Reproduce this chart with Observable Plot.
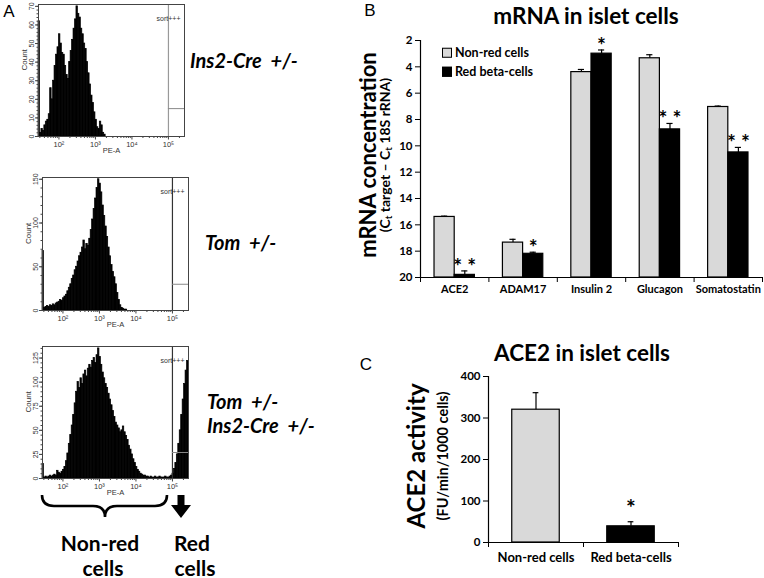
<!DOCTYPE html>
<html><head><meta charset="utf-8">
<script src="https://cdn.jsdelivr.net/npm/d3@7"></script>
<script src="https://cdn.jsdelivr.net/npm/@observablehq/plot@0.6"></script>
<style>
body{margin:0;background:#fff;}
#fig{position:relative;width:764px;height:578px;overflow:hidden;background:#fff;font-family:Lato,"Open Sans",sans-serif;color:#000;}
#fig svg{overflow:visible;}
</style></head><body><div id="fig"></div>
<script>
// ---------- Panel A: flow cytometry histograms (PE-A, log10 bins) ----------
const binStartLog = 1.44;
const binStepLog = 0.04;
const hist1Counts = [62,2,4,3,6,8,9,12,26,20,30,38,44,48,55,50,45,44,38,33,31,40,46,52,58,63,70,66,64,58,55,50,47,40,34,28,22,18,13,9,5,4,8,6,2,1,0];
const hist2Counts = [68,3,4,5,4,6,5,7,6,8,9,10,12,11,14,16,18,22,26,30,36,40,46,50,56,62,66,72,80,70,76,74,82,92,104,116,128,140,150,145,135,120,108,96,84,72,62,52,44,38,30,20,12,6,3,2,1,1,0];
const hist3Counts = [15,1,2,1,2,3,2,3,4,3,8,6,5,7,9,12,18,26,36,45,55,66,78,90,100,94,104,98,108,112,106,114,118,115,122,125,120,128,135,126,118,110,104,98,94,88,82,76,70,64,58,55,52,48,50,54,48,44,40,34,30,25,20,16,12,9,7,5,4,3,3,2,2,1,2,1,1,2,1,1,2,1,1,1,2,1,1,2,3,5,10,16,25,36,50,66,82,98,112,122];
const histXTicks = [1e2, 1e3, 1e4, 1e5];
const hist1YTicks = [0,10,20,30,40,50,60,70];
const hist2YTicks = [0,50,100,150];
const hist3YTicks = [0,25,50,75,100,125];
const histYMax = [71, 152, 137];
const gateLowCounts = [15, 30, 27];
const gateX = 1e5;
const genotypes = ["Ins2-Cre  +/-", "Tom  +/-", "Tom  +/-", "Ins2-Cre  +/-"];

// ---------- Panel B: mRNA in islet cells ----------
const genes = ["ACE2","ADAM17","Insulin 2","Glucagon","Somatostatin"];
const groups = ["Non-red cells","Red beta-cells"];
const nonRedCt = [15.4, 17.35, 4.4, 3.35, 7.05];
const nonRedErr = [0.06, 0.25, 0.2, 0.27, 0.07];
const redCt = [19.8, 18.2, 3.0, 8.75, 10.5];
const redErr = [0.3, 0.12, 0.28, 0.45, 0.38];
const redStars = ["* *","*","*","* *","* *"];
const mrnaYTicks = [2,4,6,8,10,12,14,16,18,20];

// ---------- Panel C: ACE2 activity ----------
const ace2Activity = [320, 39];
const ace2Err = [41, 11];
const ace2Stars = ["", "*"];
const ace2YTicks = [0,100,200,300,400];

const barColors = ["#d9d9d9", "#000000"];
const fig = document.getElementById("fig");

function place(node, x, y){
  const d = document.createElement("div");
  d.style.cssText = `position:absolute;left:${x}px;top:${y}px;line-height:0;`;
  d.appendChild(node); fig.appendChild(d);
}
function label(html, x, y, css, opts = {}){
  const d = document.createElement("div");
  d.innerHTML = html;
  const tx = opts.align === "left" ? "0" : "-50%";
  d.style.cssText = `position:absolute;left:${x}px;top:${y}px;white-space:pre;line-height:1;transform:translate(${tx},-50%)${opts.rotate ? " rotate(-90deg)" : ""};` + css;
  fig.appendChild(d);
}

const sup = {2:"\u00B2",3:"\u00B3",4:"\u2074",5:"\u2075"};
function histPlot(counts, yTicks, yMax, gateLow, minorStep, dims, gateColor){
  const rows = counts.map((c, i) => ({
    lo: Math.pow(10, binStartLog + i * binStepLog),
    hi: Math.pow(10, binStartLog + (i + 1) * binStepLog),
    count: c
  }));
  const xMin = Math.pow(10, binStartLog), xMax = Math.pow(10, binStartLog + 4);
  const minorX = [];
  for (let e = 1; e <= 5; e++) for (let m = 2; m <= 9; m++) {
    const v = m * Math.pow(10, e); if (v > xMin && v < xMax) minorX.push(v);
  }
  const minorY = d3.range(0, yMax, minorStep);
  return Plot.plot({
    width: dims.w, height: dims.h,
    marginLeft: dims.ml, marginRight: dims.mr, marginTop: 4, marginBottom: dims.mb,
    style: {fontFamily: "'Liberation Sans', Arial, sans-serif", fontSize: "7px", color: "#333", background: "transparent"},
    x: {type: "log", domain: [xMin, xMax], label: null, axis: null},
    y: {domain: [0, yMax], label: null, axis: null},
    marks: [
      Plot.rectY(rows, {x1: "lo", x2: "hi", y: "count", fill: "#000", stroke: "#000", strokeWidth: 0.7}),
      Plot.ruleX([gateX], {stroke: gateColor, strokeWidth: 1.2}),
      Plot.ruleY([gateLow], {x1: gateX, x2: xMax, stroke: "#888", strokeWidth: 1}),
      Plot.frame({stroke: "#444", strokeWidth: 1}),
      Plot.axisX({ticks: histXTicks, tickSize: 3.5, tickPadding: 1.5, stroke: "#444", tickFormat: d => "10" + sup[Math.round(Math.log10(d))], label: null, fontSize: 7.5}),
      Plot.axisX({ticks: minorX, tickSize: 2, tickFormat: () => "", stroke: "#444", label: null}),
      Plot.axisY({ticks: yTicks, tickSize: 3, tickPadding: 2, stroke: "#444", tickRotate: -90, textAnchor: "middle", label: null, fontSize: 7}),
      Plot.axisY({ticks: minorY, tickSize: 1.5, tickFormat: () => "", stroke: "#444", label: null}),
      Plot.text(["sort+++"], {frameAnchor: "top-right", dx: -4, dy: 12, fontSize: 7, fill: "#333"}),
      Plot.text(["PE-A"], {frameAnchor: "bottom", dy: 16, fontSize: 7.5, fill: "#333"}),
      Plot.text(["Count"], {frameAnchor: "left", dx: -14, rotate: -90, fontSize: 8, fill: "#333"})
    ]
  });
}

place(histPlot(hist1Counts, hist1YTicks, histYMax[0], gateLowCounts[0], 2, {w:190, h:160, ml:38, mr:6, mb:24}, "#999"), 0, 0);
place(histPlot(hist2Counts, hist2YTicks, histYMax[1], gateLowCounts[1], 10, {w:190, h:161, ml:42, mr:2, mb:24}, "#333"), 0, 173);
place(histPlot(hist3Counts, hist3YTicks, histYMax[2], gateLowCounts[2], 5, {w:190, h:160, ml:42, mr:2, mb:24}, "#333"), 0, 342);

// brace & arrow annotations
const ann = `<svg width="764" height="578" style="position:absolute;left:0;top:0;pointer-events:none">
<path d="M42,495 Q42,506 54,506 L93,506 Q105,506 105,517 Q105,506 117,506 L155,506 Q167,506 167,495" fill="none" stroke="#000" stroke-width="2.6"/>
<path d="M177.5,495 L184.5,495 L184.5,505 L191,505 L181,518 L171,505 L177.5,505 Z" fill="#000"/>
</svg>`;
const annDiv = document.createElement("div"); annDiv.innerHTML = ann; fig.appendChild(annDiv);

// panel letters
const letterCss = "font-family:'Liberation Sans',Arial,sans-serif;font-size:17px;";
label("A", 9, 11, letterCss);
label("B", 370, 10, letterCss);
label("C", 366, 364, letterCss);

// genotype labels
const genoCss = "font-weight:bold;font-style:italic;font-size:20px;";
label(genotypes[0], 190, 60, genoCss, {align:"left"});
label(genotypes[1], 205, 242, genoCss, {align:"left"});
label(genotypes[2], 207, 401, genoCss, {align:"left"});
label(genotypes[3], 207, 425, genoCss, {align:"left"});

const popCss = "font-weight:bold;font-size:21px;";
label("Non-red", 100, 542, popCss);
label("cells", 103, 567, popCss);
label("Red", 192, 542, popCss);
label("cells", 195, 567, popCss);

// ---------- Panel B plot ----------
const mrnaRows = [];
genes.forEach((g, i) => {
  mrnaRows.push({i, gene: g, group: groups[0], value: nonRedCt[i], err: nonRedErr[i], star: ""});
  mrnaRows.push({i, gene: g, group: groups[1], value: redCt[i], err: redErr[i], star: redStars[i]});
});
const BW = 0.295;
const bLeft = d => d.i + 0.5 - (d.group === groups[0] ? BW : 0);
const bMid = d => bLeft(d) + BW / 2;
const capB = 0.045;
const plotB = Plot.plot({
  width: 404, height: 310, marginLeft: 60, marginRight: 2, marginTop: 40, marginBottom: 33,
  style: {fontFamily: "Lato, sans-serif", fontWeight: "bold", fontSize: "11px", color: "#000", background: "transparent"},
  x: {domain: [0, genes.length], label: null, axis: null},
  y: {domain: [2, 20], reverse: true, label: null, axis: null},
  color: {domain: groups, range: barColors},
  marks: [
    Plot.rectY(mrnaRows, {x1: bLeft, x2: d => bLeft(d) + BW, y1: 20, y2: "value", fill: "group", stroke: "#000", strokeWidth: 1.2}),
    Plot.ruleX(mrnaRows, {x: bMid, y1: "value", y2: d => d.value - d.err, stroke: "#000", strokeWidth: 1.2}),
    Plot.ruleY(mrnaRows, {y: d => d.value - d.err, x1: d => bMid(d) - capB, x2: d => bMid(d) + capB, stroke: "#000", strokeWidth: 1.2}),
    Plot.text(mrnaRows.filter(d => d.star), {x: bMid, y: d => d.value - d.err, text: "star", dy: -4, fontSize: 21, fontWeight: "bold", fill: "#000"}),
    Plot.ruleY([20], {stroke: "#000", strokeWidth: 1.2}),
    Plot.ruleX([0], {stroke: "#000", strokeWidth: 1.2}),
    Plot.axisY({ticks: mrnaYTicks, tickSize: 5, tickPadding: 3, label: null, fontSize: 11.5, fontWeight: "bold"}),
    Plot.axisX({ticks: d3.range(genes.length + 1), tickSize: 5, tickFormat: () => "", label: null}),
    Plot.text(genes, {x: (d, i) => i + 0.5, frameAnchor: "bottom", dy: 15, fontSize: 11, fontWeight: "bold", fill: "#000"})
  ]
});
place(plotB, 360, 0);

const titleCss = "font-weight:bold;font-size:22.5px;";
label("mRNA in islet cells", 586, 16, titleCss);
label("mRNA concentration", 368, 155, "font-weight:bold;font-size:22px;", {rotate: true});
label("(C<sub style='font-size:0.7em;vertical-align:-0.25em'>t</sub> target \u2013 C<sub style='font-size:0.7em;vertical-align:-0.25em'>t</sub> 18S rRNA)", 386, 155, "font-weight:bold;font-size:14px;", {rotate: true});

// legend
const legCss = "font-weight:bold;font-size:12.5px;";
const sw = (c) => `<span style="display:inline-block;width:8px;height:8px;background:${c};border:1px solid #000;margin-right:3px;vertical-align:-0.5px"></span>`;
label(sw(barColors[0]) + groups[0], 442, 53, legCss, {align:"left"});
label(sw(barColors[1]) + groups[1], 442, 72, legCss, {align:"left"});

// ---------- Panel C plot ----------
const aceRows = groups.map((g, i) => ({i, group: g, value: ace2Activity[i], err: ace2Err[i], star: ace2Stars[i]}));
const capC = 0.03;
const plotC = Plot.plot({
  width: 320, height: 258, marginLeft: 128, marginRight: 2, marginTop: 56, marginBottom: 36,
  style: {fontFamily: "Lato, sans-serif", fontWeight: "bold", fontSize: "11px", color: "#000", background: "transparent"},
  x: {domain: [0, groups.length], label: null, axis: null},
  y: {domain: [0, 400], label: null, axis: null},
  color: {domain: groups, range: barColors},
  marks: [
    Plot.rectY(aceRows, {x1: d => d.i + 0.25, x2: d => d.i + 0.75, y1: 0, y2: "value", fill: "group", stroke: "#000", strokeWidth: 1.2}),
    Plot.ruleX(aceRows, {x: d => d.i + 0.5, y1: "value", y2: d => d.value + d.err, stroke: "#000", strokeWidth: 1.2}),
    Plot.ruleY(aceRows, {y: d => d.value + d.err, x1: d => d.i + 0.5 - capC, x2: d => d.i + 0.5 + capC, stroke: "#000", strokeWidth: 1.2}),
    Plot.text(aceRows.filter(d => d.star), {x: d => d.i + 0.5, y: d => d.value + d.err, text: "star", dy: -13, fontSize: 23, fontWeight: "bold", fill: "#000"}),
    Plot.ruleY([0], {stroke: "#000", strokeWidth: 1.2}),
    Plot.ruleX([0], {stroke: "#000", strokeWidth: 1.2}),
    Plot.axisY({ticks: ace2YTicks, tickSize: 5, tickPadding: 3, label: null, fontSize: 11.5, fontWeight: "bold"}),
    Plot.axisX({ticks: d3.range(groups.length + 1), tickSize: 5, tickFormat: () => "", label: null}),
    Plot.text(groups, {x: (d, i) => i + 0.5, frameAnchor: "bottom", dy: 19, fontSize: 13, fontWeight: "bold", fill: "#000"})
  ]
});
place(plotC, 360, 320);

label("ACE2 in islet cells", 582, 353, titleCss);
label("ACE2 activity", 416, 456, "font-weight:bold;font-size:24px;", {rotate: true});
label("(FU/min/1000 cells)", 443, 456, "font-weight:bold;font-size:14.5px;", {rotate: true});
</script></body></html>
